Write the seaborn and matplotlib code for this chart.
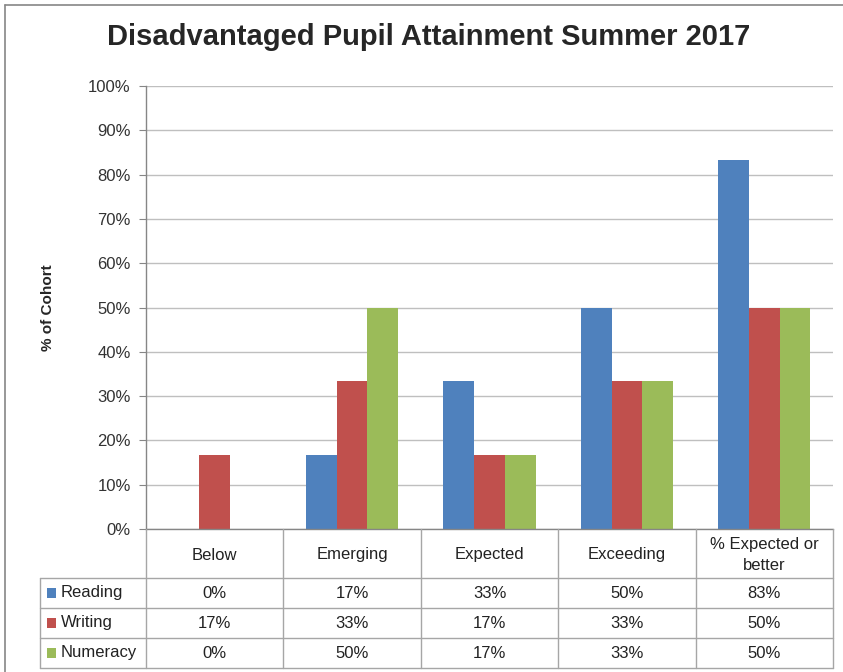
import numpy as np
import pandas as pd
import matplotlib
matplotlib.use('Agg')
import matplotlib.pyplot as plt
import matplotlib.transforms as mtransforms
from matplotlib.lines import Line2D
from matplotlib.patches import Rectangle
import seaborn as sns

# data (% of cohort)
categories = ['Below', 'Emerging', 'Expected', 'Exceeding', '% Expected or\nbetter']
series = ['Reading', 'Writing', 'Numeracy']
reading = [0, 16.7, 33.3, 50, 83.3]
writing = [16.7, 33.3, 16.7, 33.3, 50]
numeracy = [0, 50, 16.7, 33.3, 50]
colors = ['#4F81BD', '#C0504D', '#9BBB59']

values = {'Reading': reading, 'Writing': writing, 'Numeracy': numeracy}
df = pd.DataFrame([
    {'category': c, 'series': s, 'value': values[s][i]}
    for s in series for i, c in enumerate(categories)
])

sns.set_style('white')
plt.rcParams['font.family'] = ['Liberation Sans', 'DejaVu Sans']

W, H = 843, 672
fig = plt.figure(figsize=(W / 100, H / 100), dpi=100)

def fx(x):
    return x / W

def fy(y):
    return 1 - y / H

ax = fig.add_axes([fx(146), fy(529), fx(833) - fx(146), fy(86) - fy(529)])

sns.barplot(data=df, x='category', y='value', hue='series', order=categories,
            hue_order=series, palette=colors, saturation=1, width=0.67, gap=0,
            legend=False, ax=ax, edgecolor='none')

ax.set_xlim(-0.5, len(categories) - 0.5)
ax.set_ylim(0, 100)
ax.set_yticks(np.arange(0, 101, 10))
ax.set_yticklabels([f'{t}%' for t in range(0, 101, 10)], fontsize=12, color='#333333')
ax.set_xticks([])
ax.set_xlabel('')
ax.set_ylabel('% of Cohort', fontsize=11, fontweight='bold', labelpad=24)
ax.yaxis.grid(True, color='#BFBFBF', linewidth=1)
ax.set_axisbelow(True)
ax.tick_params(axis='y', direction='out', length=5, color='#868686', pad=6, left=True)
for side in ['top', 'right']:
    ax.spines[side].set_visible(False)
for side in ['left', 'bottom']:
    ax.spines[side].set_color('#868686')
    ax.spines[side].set_linewidth(1)

fig.suptitle('Disadvantaged Pupil Attainment Summer 2017', x=fx(429), y=fy(23),
             fontsize=21, fontweight='bold', va='top')

# chart area border (left and top visible)
fig.add_artist(Line2D([fx(5), fx(5)], [fy(5), 0], color='#868686', lw=1.2))
fig.add_artist(Line2D([fx(5), 1], [fy(5), fy(5)], color='#868686', lw=1.2))

# data table below the axis
tcol = '#A6A6A6'
trans = mtransforms.blended_transform_factory(ax.transData, fig.transFigure)
row_tops = [529, 578, 608, 638, 668]
for i in range(len(categories) + 1):
    fig.add_artist(Line2D([i - 0.5, i - 0.5], [fy(529), fy(668)], color=tcol, lw=1,
                          transform=trans))
fig.add_artist(Line2D([fx(40), fx(40)], [fy(578), fy(668)], color=tcol, lw=1))
for y in row_tops[1:]:
    fig.add_artist(Line2D([fx(40), fx(833)], [fy(y), fy(y)], color=tcol, lw=1))

for i, c in enumerate(categories):
    fig.text(i, fy(555), c, transform=trans, ha='center', va='center',
             fontsize=12, color='#222222', linespacing=1.45)

for r, s in enumerate(series):
    yc = (row_tops[r + 1] + row_tops[r + 2]) / 2
    fig.add_artist(Rectangle((fx(47), fy(yc + 5)), fx(9), fy(yc - 5) - fy(yc + 5),
                             facecolor=colors[r], edgecolor='none'))
    fig.text(fx(61), fy(yc), s, ha='left', va='center', fontsize=12, color='#222222')
    for i, v in enumerate(values[s]):
        fig.text(i, fy(yc), f'{round(v)}%', transform=trans, ha='center', va='center',
                 fontsize=12, color='#222222')

fig.savefig('out.png', dpi=100)
